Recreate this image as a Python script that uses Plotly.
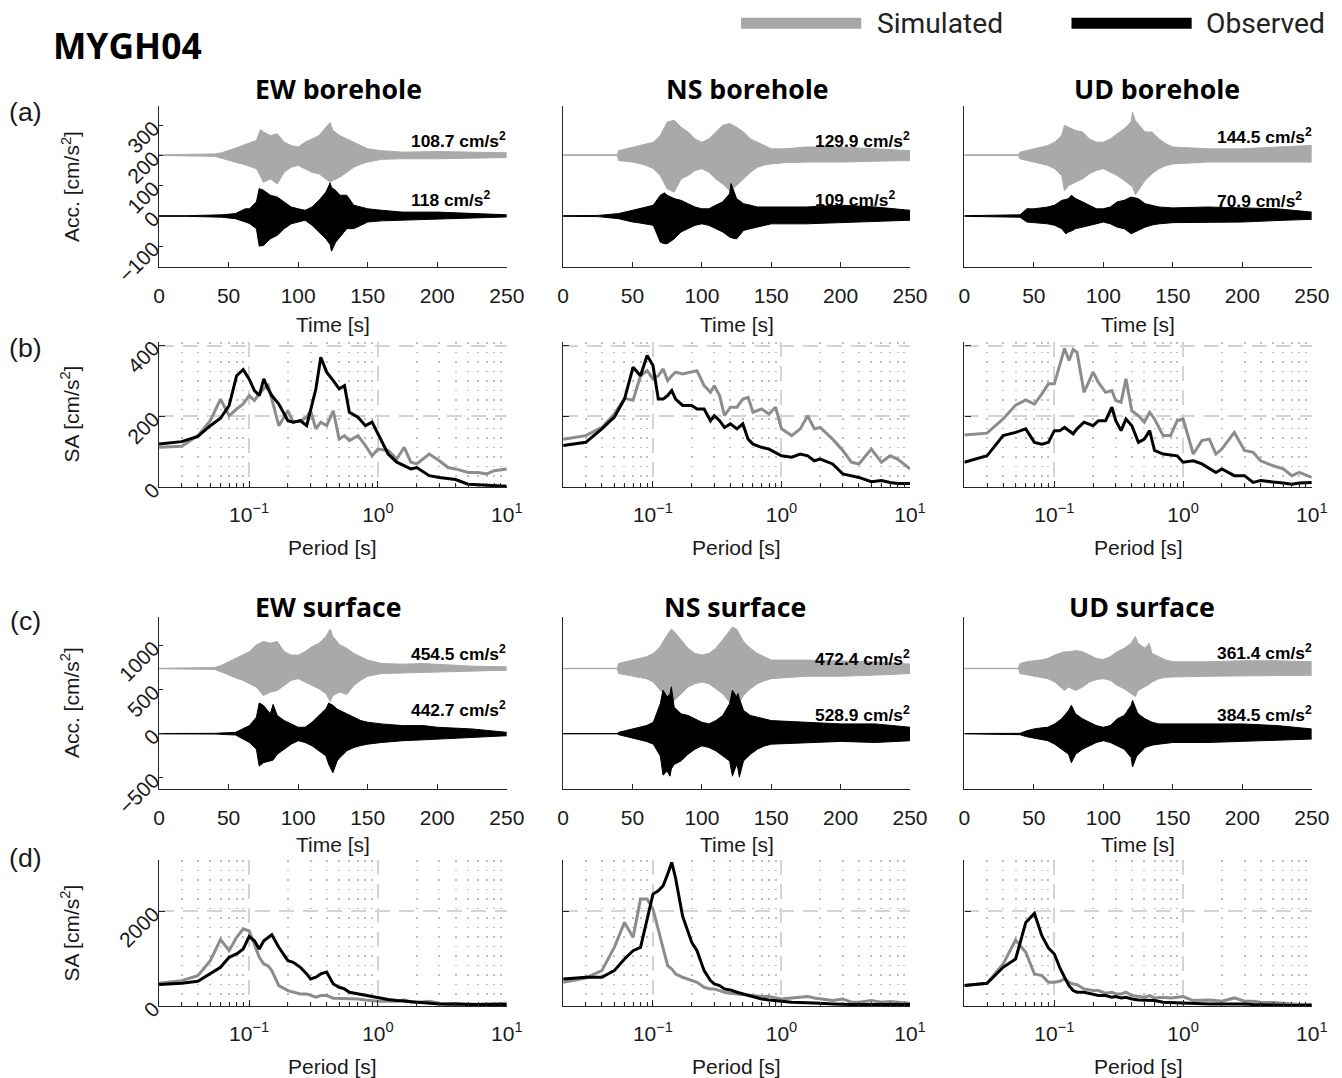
import math
import plotly.graph_objects as go

# measured capture transform of the viewer: image = S * (page), page = figure + 8px body margin
SX, SY = 0.981, 0.966
OX, OY = 8, 8
W, H = 1352, 1100
FS = 1.0 / 0.975  # font compensation

# ---------------- data ----------------
components = ["EW", "NS", "UD"]

bh_ew_sim_t = [0, 40, 45, 50, 55, 60, 65, 70, 73, 75, 80, 85, 90, 95, 100, 105, 110, 115, 120, 123, 125, 130, 135, 140, 145, 150, 160, 175, 200, 210, 225, 250]
bh_ew_sim_up = [1, 4, 8, 15, 23, 32, 41, 49, 85, 77, 65, 71, 43, 32, 27, 43, 54, 65, 93, 108, 82, 65, 54, 43, 32, 21, 15, 10, 12, 12, 10, 8]
bh_ew_sim_lo = [-1, -4, -10, -18, -24, -29, -38, -45, -70, -90, -79, -96, -57, -40, -34, -45, -57, -62, -79, -90, -84, -73, -57, -40, -30, -23, -14, -12, -12, -12, -10, -8]

bh_ew_obs_t = [0, 20, 45, 55, 62, 65, 70, 72, 75, 80, 85, 90, 95, 100, 105, 110, 115, 120, 123, 124, 127, 130, 135, 140, 145, 150, 160, 175, 200, 225, 250]
bh_ew_obs_up = [1, 1, 4, 8, 24, 24, 47, 91, 86, 69, 63, 47, 30, 24, 19, 30, 52, 80, 110, 95, 85, 69, 69, 36, 30, 24, 19, 13, 13, 8, 4]
bh_ew_obs_lo = [-1, -1, -4, -9, -20, -25, -42, -100, -98, -76, -64, -42, -26, -20, -14, -31, -53, -76, -95, -117, -87, -70, -42, -42, -31, -20, -16, -14, -11, -8, -3]

bh_ns_sim_t = [0, 39, 40, 45, 50, 55, 60, 65, 70, 75, 80, 85, 90, 95, 100, 105, 110, 115, 120, 125, 130, 135, 140, 145, 150, 160, 175, 200, 225, 250]
bh_ns_sim_up = [1, 1, 15, 21, 27, 32, 38, 43, 65, 110, 116, 93, 77, 54, 43, 54, 77, 99, 105, 93, 77, 54, 43, 32, 21, 21, 27, 27, 21, 15]
bh_ns_sim_lo = [-1, -1, -18, -20, -23, -28, -34, -45, -68, -112, -123, -79, -68, -51, -45, -57, -79, -96, -118, -101, -79, -57, -40, -33, -29, -25, -23, -23, -20, -18]

bh_ns_obs_t = [0, 25, 40, 45, 50, 55, 60, 65, 70, 73, 75, 80, 85, 90, 95, 100, 105, 110, 115, 120, 121, 125, 130, 135, 140, 150, 175, 200, 225, 250]
bh_ns_obs_up = [1, 2, 8, 13, 19, 24, 30, 36, 69, 77, 69, 58, 52, 41, 30, 24, 24, 36, 47, 74, 108, 58, 41, 36, 30, 30, 30, 36, 30, 19]
bh_ns_obs_lo = [-1, -2, -9, -15, -20, -23, -26, -31, -87, -92, -92, -76, -53, -42, -31, -26, -31, -42, -53, -70, -72, -76, -48, -42, -37, -26, -26, -22, -20, -14]

bh_ud_sim_t = [0, 39, 40, 45, 50, 55, 60, 65, 70, 72, 75, 80, 85, 90, 95, 100, 105, 110, 115, 120, 121, 123, 125, 130, 135, 140, 145, 150, 175, 200, 225, 250]
bh_ud_sim_up = [1, 1, 10, 15, 21, 27, 32, 43, 65, 99, 93, 82, 77, 54, 43, 43, 54, 71, 88, 110, 143, 115, 104, 77, 77, 54, 38, 27, 21, 21, 27, 32]
bh_ud_sim_lo = [-1, -1, -12, -18, -23, -28, -34, -45, -68, -118, -101, -90, -79, -62, -51, -45, -57, -68, -84, -101, -105, -132, -118, -84, -62, -45, -35, -29, -23, -23, -23, -23]

bh_ud_obs_t = [0, 40, 45, 50, 55, 60, 65, 70, 73, 75, 77, 80, 85, 90, 95, 100, 105, 110, 115, 120, 125, 130, 135, 140, 150, 175, 200, 225, 250]
bh_ud_obs_up = [1, 4, 24, 24, 27, 30, 36, 52, 55, 58, 69, 58, 47, 36, 24, 24, 30, 47, 52, 63, 58, 41, 36, 30, 27, 30, 27, 24, 13]
bh_ud_obs_lo = [-1, -4, -20, -22, -24, -26, -31, -42, -59, -53, -50, -42, -37, -31, -26, -20, -26, -37, -42, -59, -48, -37, -30, -26, -22, -22, -20, -15, -11]

sf_ew_sim_t = [0, 40, 45, 50, 55, 60, 65, 70, 75, 77, 80, 85, 90, 95, 100, 105, 110, 115, 120, 123, 125, 130, 135, 140, 145, 150, 160, 175, 190, 200, 225, 250]
sf_ew_sim_up = [2, 11, 38, 77, 115, 153, 192, 268, 307, 300, 287, 307, 192, 153, 153, 192, 249, 287, 364, 448, 364, 268, 230, 172, 134, 96, 57, 50, 57, 50, 27, 19]
sf_ew_sim_lo = [-2, -11, -40, -77, -105, -134, -172, -211, -307, -295, -268, -249, -192, -134, -115, -153, -192, -230, -287, -372, -307, -268, -295, -192, -134, -88, -57, -50, -45, -38, -28, -19]

sf_ew_obs_t = [0, 40, 55, 60, 65, 70, 72, 75, 80, 82, 85, 90, 95, 100, 105, 110, 115, 120, 122, 125, 128, 130, 135, 140, 145, 150, 160, 175, 190, 200, 225, 250]
sf_ew_obs_up = [2, 4, 15, 54, 92, 188, 349, 322, 226, 333, 207, 149, 111, 73, 73, 130, 207, 284, 349, 322, 280, 264, 226, 188, 149, 130, 111, 92, 92, 73, 54, 15]
sf_ew_obs_lo = [-2, -4, -15, -61, -100, -176, -368, -330, -310, -300, -234, -176, -119, -80, -100, -138, -195, -253, -349, -444, -310, -272, -195, -157, -135, -119, -100, -80, -70, -61, -42, -23]

sf_ns_sim_t = [0, 39, 40, 45, 50, 55, 60, 65, 70, 75, 78, 80, 85, 90, 95, 100, 105, 110, 115, 120, 122, 125, 128, 130, 135, 140, 145, 150, 175, 200, 225, 250]
sf_ns_sim_up = [2, 2, 57, 77, 96, 115, 134, 172, 249, 383, 448, 421, 326, 230, 172, 153, 172, 230, 326, 421, 471, 448, 360, 307, 230, 172, 134, 96, 96, 88, 77, 50]
sf_ns_sim_lo = [-2, -2, -57, -72, -88, -100, -115, -153, -249, -326, -350, -364, -287, -211, -172, -153, -172, -230, -287, -383, -400, -441, -364, -307, -230, -172, -140, -115, -88, -88, -75, -57]

sf_ns_obs_t = [0, 39, 40, 45, 50, 55, 60, 65, 70, 72, 75, 77, 78, 80, 85, 90, 95, 100, 105, 110, 115, 120, 122, 125, 126, 127, 130, 135, 140, 145, 150, 175, 200, 225, 250]
sf_ns_obs_up = [2, 2, 15, 34, 54, 73, 92, 130, 341, 494, 418, 450, 533, 303, 226, 207, 169, 130, 111, 149, 207, 341, 494, 420, 456, 400, 264, 207, 188, 169, 149, 130, 111, 111, 73]
sf_ns_obs_lo = [-2, -2, -11, -30, -50, -70, -88, -119, -253, -471, -425, -483, -400, -349, -310, -234, -176, -138, -157, -195, -253, -310, -483, -349, -400, -494, -310, -234, -176, -140, -119, -100, -88, -100, -80]

sf_ud_sim_t = [0, 39, 40, 45, 50, 55, 60, 65, 70, 72, 75, 80, 85, 90, 95, 100, 105, 110, 115, 120, 123, 125, 130, 133, 135, 140, 145, 150, 175, 200, 225, 250]
sf_ud_sim_up = [2, 2, 57, 77, 88, 96, 115, 153, 180, 190, 192, 203, 192, 153, 115, 103, 134, 192, 230, 287, 364, 287, 230, 287, 172, 134, 96, 77, 77, 88, 88, 77]
sf_ud_sim_lo = [-2, -2, -57, -72, -88, -100, -115, -153, -230, -249, -211, -249, -211, -153, -126, -115, -134, -192, -230, -287, -318, -249, -211, -180, -153, -115, -100, -96, -88, -88, -80, -77]

sf_ud_obs_t = [0, 40, 45, 50, 55, 60, 65, 70, 75, 77, 80, 85, 90, 95, 100, 105, 110, 115, 120, 121, 124, 125, 130, 135, 140, 150, 175, 200, 225, 250]
sf_ud_obs_up = [2, 4, 34, 54, 65, 73, 111, 169, 264, 322, 226, 169, 130, 92, 73, 92, 169, 207, 322, 379, 260, 226, 169, 130, 111, 111, 119, 111, 92, 54]
sf_ud_obs_lo = [-2, -11, -35, -50, -65, -80, -119, -176, -234, -330, -234, -176, -138, -100, -80, -100, -138, -176, -272, -379, -253, -240, -157, -130, -119, -100, -100, -88, -75, -61]

pga_bh_sim = [108.7, 129.9, 144.5]
pga_bh_obs = [118, 109, 70.9]
pga_sf_sim = [454.5, 472.4, 361.4]
pga_sf_obs = [442.7, 528.9, 384.5]

periods = [0.02, 0.03, 0.04, 0.05, 0.06, 0.07, 0.08, 0.09, 0.1, 0.11, 0.12, 0.13, 0.14, 0.15, 0.17,
           0.2, 0.22, 0.25, 0.28, 0.3, 0.33, 0.36, 0.4, 0.45, 0.5, 0.55, 0.6, 0.7, 0.8, 0.9,
           1.0, 1.2, 1.4, 1.6, 1.8, 2.0, 2.5, 3, 3.5, 4, 5, 6, 7, 8, 10]

sa_bh_ew_obs = [122, 129, 144, 174, 195, 231, 315, 332, 306, 273, 259, 306, 278, 259, 235, 188, 184, 188, 174, 221, 278, 367, 325, 301, 278, 287, 212, 198, 174, 184, 151, 94, 71, 61, 52, 56, 33, 28, 25, 22, 9, 7, 7, 5, 3]
sa_bh_ew_sim = [113, 116, 146, 188, 249, 202, 221, 235, 259, 245, 264, 278, 292, 249, 174, 216, 184, 188, 198, 216, 165, 184, 174, 216, 136, 146, 132, 146, 118, 89, 108, 104, 80, 113, 71, 66, 94, 75, 56, 52, 42, 42, 38, 47, 52]
sa_bh_ns_obs = [118, 127, 165, 198, 249, 339, 315, 372, 344, 249, 249, 259, 273, 249, 231, 231, 221, 221, 188, 202, 188, 169, 179, 165, 179, 136, 122, 113, 108, 99, 89, 85, 94, 89, 75, 80, 66, 38, 33, 28, 16, 19, 14, 11, 11]
sa_bh_ns_sim = [136, 146, 169, 207, 251, 246, 315, 329, 306, 315, 334, 301, 315, 325, 320, 325, 329, 287, 268, 287, 259, 202, 226, 226, 249, 254, 212, 221, 207, 226, 165, 146, 165, 202, 165, 169, 136, 104, 71, 66, 108, 71, 89, 80, 52]
sa_bh_ud_obs = [71, 89, 146, 155, 165, 127, 122, 127, 160, 160, 169, 160, 151, 165, 184, 174, 188, 188, 226, 188, 160, 193, 174, 127, 136, 160, 104, 94, 92, 89, 71, 75, 66, 52, 42, 52, 33, 33, 14, 19, 14, 12, 9, 12, 14]
sa_bh_ud_sim = [148, 153, 193, 232, 247, 235, 264, 292, 292, 344, 392, 358, 389, 381, 268, 325, 296, 268, 273, 245, 240, 306, 216, 202, 184, 212, 193, 146, 146, 188, 193, 94, 132, 136, 94, 108, 155, 104, 99, 75, 61, 52, 33, 42, 28]

sa_sf_ew_obs = [456, 484, 526, 681, 821, 1032, 1102, 1207, 1467, 1382, 1207, 1382, 1453, 1509, 1242, 961, 926, 821, 681, 575, 611, 681, 720, 470, 400, 365, 295, 260, 225, 204, 190, 140, 119, 105, 91, 77, 63, 49, 42, 49, 35, 35, 28, 35, 35]
sa_sf_ew_sim = [484, 540, 646, 961, 1404, 1172, 1453, 1628, 1593, 1312, 1032, 891, 856, 751, 435, 330, 295, 260, 260, 225, 190, 225, 225, 168, 168, 168, 161, 154, 133, 119, 105, 105, 105, 133, 84, 77, 105, 63, 63, 49, 49, 42, 49, 49, 63]
sa_sf_ns_obs = [575, 611, 611, 751, 996, 1172, 1242, 1839, 2365, 2435, 2540, 2786, 3032, 2700, 1900, 1350, 1172, 750, 540, 470, 435, 365, 344, 295, 260, 225, 190, 154, 133, 119, 98, 84, 77, 77, 70, 63, 49, 35, 35, 35, 35, 35, 35, 35, 35]
sa_sf_ns_sim = [505, 596, 751, 1242, 1768, 1453, 2260, 2260, 2049, 1628, 1242, 856, 786, 681, 611, 540, 505, 400, 365, 365, 330, 295, 274, 260, 239, 225, 225, 204, 204, 175, 154, 175, 190, 204, 175, 154, 119, 154, 84, 84, 119, 84, 98, 84, 63]
sa_sf_ud_obs = [435, 484, 821, 996, 1768, 1958, 1488, 1228, 1102, 821, 611, 435, 330, 295, 295, 260, 225, 225, 190, 204, 175, 190, 154, 133, 133, 119, 119, 84, 77, 70, 63, 49, 49, 49, 49, 49, 63, 49, 35, 35, 28, 21, 14, 21, 21]
sa_sf_ud_sim = [435, 484, 891, 1396, 1137, 681, 646, 505, 505, 526, 575, 505, 470, 456, 365, 330, 330, 274, 295, 260, 260, 295, 225, 204, 190, 225, 175, 190, 175, 190, 204, 119, 133, 133, 119, 105, 175, 105, 105, 84, 77, 63, 49, 35, 35]

# ---------------- styling / layout ----------------
C_SIM_WAVE = "#a9a9a9"
C_SIM_SA = "#8c8c8c"
C_OBS = "#000000"
AX = "#262626"
FONT = "Liberation Sans, Arial, sans-serif"


def fx(px):
    return (px / SX - OX) / W


def fy(py):
    return 1 - (py / SY - OY) / H


def fsz(s):
    return round(s * FS, 1)


X0 = [160.7, 564.3, 965.0]
X1 = [508.0, 910.7, 1312.0]
YT = [108, 343, 617, 860]
YB = [268, 488, 789, 1005.7]

SIM_OFFSET = {0: 202.3, 2: 740.5}
Y_RANGE = {0: [-169, 364], 1: [0, 410], 2: [-629, 1330], 3: [0, 3080]}
Y_TICKS = {0: [-100, 0, 100, 200, 300], 1: [0, 200, 400], 2: [-500, 0, 500, 1000], 3: [0, 2000]}

waves = {
    0: [((bh_ew_sim_t, bh_ew_sim_up, bh_ew_sim_lo), (bh_ew_obs_t, bh_ew_obs_up, bh_ew_obs_lo)),
        ((bh_ns_sim_t, bh_ns_sim_up, bh_ns_sim_lo), (bh_ns_obs_t, bh_ns_obs_up, bh_ns_obs_lo)),
        ((bh_ud_sim_t, bh_ud_sim_up, bh_ud_sim_lo), (bh_ud_obs_t, bh_ud_obs_up, bh_ud_obs_lo))],
    2: [((sf_ew_sim_t, sf_ew_sim_up, sf_ew_sim_lo), (sf_ew_obs_t, sf_ew_obs_up, sf_ew_obs_lo)),
        ((sf_ns_sim_t, sf_ns_sim_up, sf_ns_sim_lo), (sf_ns_obs_t, sf_ns_obs_up, sf_ns_obs_lo)),
        ((sf_ud_sim_t, sf_ud_sim_up, sf_ud_sim_lo), (sf_ud_obs_t, sf_ud_obs_up, sf_ud_obs_lo))],
}
spectra = {
    1: [(sa_bh_ew_sim, sa_bh_ew_obs), (sa_bh_ns_sim, sa_bh_ns_obs), (sa_bh_ud_sim, sa_bh_ud_obs)],
    3: [(sa_sf_ew_sim, sa_sf_ew_obs), (sa_sf_ns_sim, sa_sf_ns_obs), (sa_sf_ud_sim, sa_sf_ud_obs)],
}
pga = {0: (pga_bh_sim, pga_bh_obs), 2: (pga_sf_sim, pga_sf_obs)}
PGA_Y = {0: [(252, 58), (252, 58), (266, 52)], 2: [(915, 286), (858, 229), (927, 229)]}

minor_periods = [m * 10 ** e for e in (-2, -1, 0) for m in range(2, 10) if m * 10 ** e >= 0.02]

fig = go.Figure()
layout = dict(width=W, height=H, margin=dict(l=0, r=0, t=0, b=0), autosize=False,
              paper_bgcolor="white", plot_bgcolor="white", showlegend=False,
              font=dict(family=FONT, size=20, color=AX))
annotations = []
shapes = []

for r in range(4):
    for c in range(3):
        n = r * 3 + c + 1
        xk = "xaxis" if n == 1 else f"xaxis{n}"
        yk = "yaxis" if n == 1 else f"yaxis{n}"
        xr = "x" if n == 1 else f"x{n}"
        yr = "y" if n == 1 else f"y{n}"
        xdom = [fx(X0[c]), fx(X1[c])]
        ydom = [fy(YB[r]), fy(YT[r])]
        common = dict(showline=True, linecolor=AX, linewidth=1.4, zeroline=False,
                      ticks="inside", tickcolor=AX, tickwidth=1.2,
                      tickfont=dict(family=FONT, size=fsz(20.5), color="#1a1a1a"))
        if r in (0, 2):
            layout[xk] = dict(domain=xdom, anchor=yr, range=[0, 250], tickvals=[0, 50, 100, 150, 200, 250],
                              ticklen=5, showgrid=False, ticklabelstandoff=10, **common)
            layout[yk] = dict(domain=ydom, anchor=xr, range=Y_RANGE[r], tickvals=Y_TICKS[r],
                              ticklen=4 if c == 0 else 0, showgrid=False,
                              showticklabels=(c == 0), tickangle=-45, **common)
            (sim, obs) = waves[r][c]
            off = SIM_OFFSET[r]
            for (t, up, lo), base, col in ((sim, off, C_SIM_WAVE), (obs, 0, C_OBS)):
                fig.add_trace(go.Scatter(x=t, y=[base + v for v in lo], mode="lines",
                                         line=dict(color=col, width=1), xaxis=xr, yaxis=yr,
                                         hoverinfo="skip"))
                fig.add_trace(go.Scatter(x=t, y=[base + v for v in up], mode="lines",
                                         line=dict(color=col, width=1), fill="tonexty", fillcolor=col,
                                         xaxis=xr, yaxis=yr, hoverinfo="skip"))
            ps, po = pga[r]
            ys, yo = PGA_Y[r][c]
            for val, yy in ((ps[c], ys), (po[c], yo)):
                annotations.append(dict(xref=xr, yref=yr, x=180, y=yy, xanchor="left", yanchor="middle",
                                        text=f"<b>{val:g} cm/s<sup>2</sup></b>", showarrow=False,
                                        font=dict(family=FONT, size=fsz(17), color="black")))
        else:
            layout[xk] = dict(domain=xdom, anchor=yr, type="log", range=[math.log10(0.02), 1],
                              tickvals=[0.1, 1, 10],
                              ticktext=["10<sup>\u22121</sup>", "10<sup>0</sup>", "10<sup>1</sup>"],
                              ticklen=6, showgrid=True, gridcolor="#d4d4d4", gridwidth=2,
                              griddash="15px,9px", ticklabelstandoff=8,
                              minor=dict(tickmode="array", tickvals=minor_periods, ticks="inside", ticklen=4,
                                         tickcolor=AX, showgrid=True, gridcolor="#bdbdbd", gridwidth=1.5,
                                         griddash="1.5px,8px"),
                              **common)
            layout[yk] = dict(domain=ydom, anchor=xr, range=Y_RANGE[r], tickvals=Y_TICKS[r],
                              ticklen=6, showgrid=True, gridcolor="#d4d4d4", gridwidth=2, griddash="15px,9px",
                              showticklabels=(c == 0), tickangle=-45, **common)
            sim, obs = spectra[r][c]
            fig.add_trace(go.Scatter(x=periods, y=sim, mode="lines", line=dict(color=C_SIM_SA, width=3),
                                     xaxis=xr, yaxis=yr, hoverinfo="skip"))
            fig.add_trace(go.Scatter(x=periods, y=obs, mode="lines", line=dict(color=C_OBS, width=3),
                                     xaxis=xr, yaxis=yr, hoverinfo="skip"))


def pa(x, y, text, size, family=FONT, angle=0, xanchor="center", color="#1a1a1a"):
    annotations.append(dict(xref="paper", yref="paper", x=fx(x), y=fy(y), text=text, showarrow=False,
                            xanchor=xanchor, yanchor="middle", textangle=angle,
                            font=dict(family=family, size=fsz(size), color=color)))


TITLE_FONT = "Open Sans, sans-serif"
pa(129, 47, "<b>MYGH04</b>", 34.5, TITLE_FONT, color="black")
for c, (xa, xc) in enumerate(zip([340, 748, 1157], [330, 736, 1142])):
    pa(xa, 90, f"<b>{components[c]} borehole</b>", 26, TITLE_FONT, color="black")
    pa(xc, 607, f"<b>{components[c]} surface</b>", 26, TITLE_FONT, color="black")
    cx = (X0[c] + X1[c]) / 2
    pa(cx, 326, "Time [s]", 20.5)
    pa(cx, 844, "Time [s]", 20.5)
    pa(cx, 548, "Period [s]", 20.5)
    pa(cx, 1066, "Period [s]", 20.5)

for lab, y in (("(a)", 113), ("(b)", 349), ("(c)", 621), ("(d)", 858)):
    pa(27, y, lab, 26)
pa(72, 188, "Acc. [cm/s<sup>2</sup>]", 20.5, angle=-90)
pa(72, 415, "SA [cm/s<sup>2</sup>]", 20.5, angle=-90)
pa(72, 703, "Acc. [cm/s<sup>2</sup>]", 20.5, angle=-90)
pa(72, 933, "SA [cm/s<sup>2</sup>]", 20.5, angle=-90)

for x0, x1, col, label, tx in ((742, 862, "#a6a6a6", "Simulated", 876), (1072, 1192, "#000000", "Observed", 1204)):
    shapes.append(dict(type="line", xref="paper", yref="paper", x0=fx(x0), x1=fx(x1),
                       y0=fy(25), y1=fy(25), line=dict(color=col, width=11)))
    pa(tx, 25, label, 27.5, "Roboto, sans-serif", xanchor="left", color="#222222")

layout["annotations"] = annotations
layout["shapes"] = shapes
fig.update_layout(**layout)
fig.write_html("out.html")
